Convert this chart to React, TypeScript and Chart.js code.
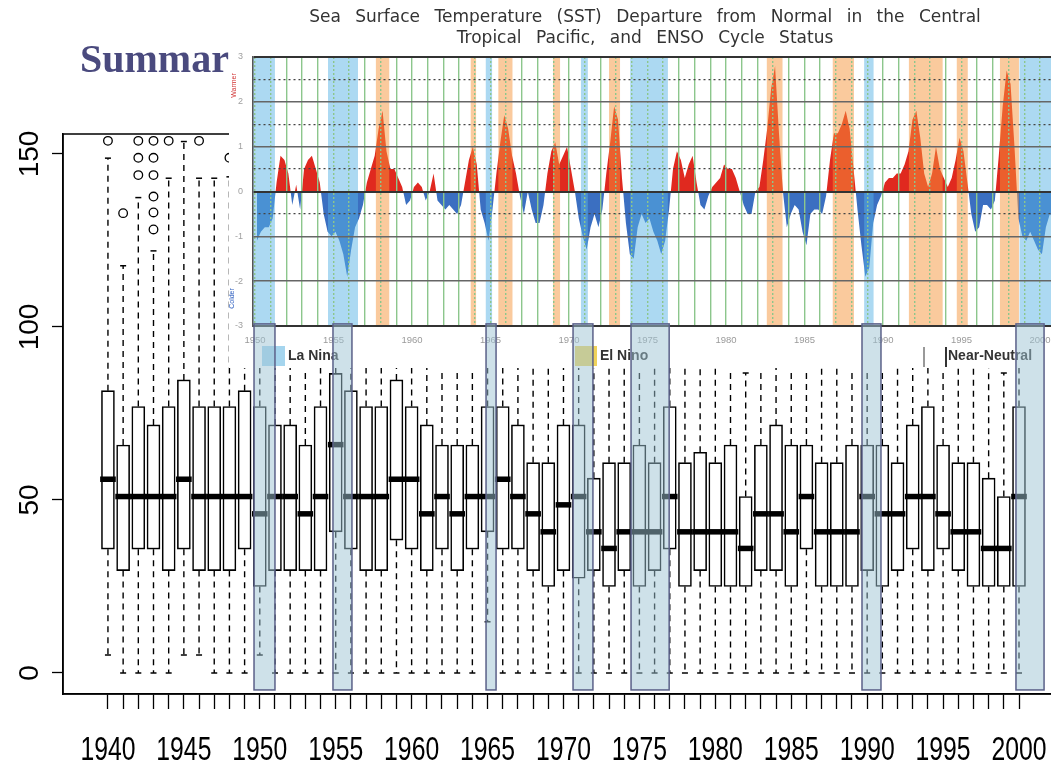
import React, { useEffect, useRef } from "react";
import { Chart, registerables } from "chart.js";

Chart.register(...registerables);

// ---------------- Box plot (main chart) ----------------
const YEARS = [
  1940, 1941, 1942, 1943, 1944, 1945, 1946, 1947, 1948, 1949,
  1950, 1951, 1952, 1953, 1954, 1955, 1956, 1957, 1958, 1959,
  1960, 1961, 1962, 1963, 1964, 1965, 1966, 1967, 1968, 1969,
  1970, 1971, 1972, 1973, 1974, 1975, 1976, 1977, 1978, 1979,
  1980, 1981, 1982, 1983, 1984, 1985, 1986, 1987, 1988, 1989,
  1990, 1991, 1992, 1993, 1994, 1995, 1996, 1997, 1998, 1999,
  2000,
];
const WHISKER_LOW = [
  5.2, 0, 0, 0, 0, 5.2, 5.2, 0, 0, 0,
  5.2, 0, 0, 0, 0, 0, 0, 0, 0, 0,
  0, 0, 0, 0, 0, 14.8, 0, 0, 0, 0,
  0, 0, 0, 0, 0, 0, 0, 0, 0, 0,
  0, 0, 0, 0, 0, 0, 0, 0, 0, 0,
  0, 0, 0, 0, 0, 0, 0, 0, 0, 0,
  0,
];
const Q1 = [
  35.8, 29.6, 35.8, 35.8, 29.6, 35.8, 29.6, 29.6, 29.6, 35.8,
  25.0, 29.6, 29.6, 29.6, 29.6, 40.8, 35.8, 29.6, 29.6, 38.4,
  35.8, 29.6, 35.8, 29.6, 35.8, 40.8, 35.8, 35.8, 29.6, 25.0,
  29.6, 27.4, 29.6, 25.0, 29.6, 25.0, 29.6, 35.8, 25.0, 29.6,
  25.0, 25.0, 25.0, 29.6, 29.6, 25.0, 35.8, 25.0, 25.0, 25.0,
  29.6, 25.0, 29.6, 35.8, 29.6, 35.8, 29.6, 25.0, 25.0, 25.0,
  25.0,
];
const MEDIAN = [
  56.0, 51.0, 51.0, 51.0, 51.0, 56.0, 51.0, 51.0, 51.0, 51.0,
  46.0, 51.0, 51.0, 46.0, 51.0, 66.0, 51.0, 51.0, 51.0, 56.0,
  56.0, 46.0, 51.0, 46.0, 51.0, 51.0, 56.0, 51.0, 46.0, 40.8,
  48.6, 51.0, 40.8, 36.0, 40.8, 40.8, 40.8, 51.0, 40.8, 40.8,
  40.8, 40.8, 36.0, 46.0, 46.0, 40.8, 51.0, 40.8, 40.8, 40.8,
  51.0, 46.0, 46.0, 51.0, 51.0, 46.0, 40.8, 40.8, 36.0, 36.0,
  51.0,
];
const Q3 = [
  81.6, 65.9, 77.0, 71.7, 77.0, 84.7, 77.0, 77.0, 77.0, 81.6,
  77.0, 71.7, 71.7, 65.9, 77.0, 86.6, 81.6, 77.0, 77.0, 84.7,
  77.0, 71.7, 65.9, 65.9, 65.9, 77.0, 77.0, 71.7, 60.8, 60.8,
  71.7, 71.7, 56.3, 60.8, 60.8, 65.9, 60.8, 77.0, 60.8, 63.8,
  60.8, 65.9, 51.0, 65.9, 71.7, 65.9, 65.9, 60.8, 60.8, 65.9,
  65.9, 65.9, 60.8, 71.7, 77.0, 65.9, 60.8, 60.8, 56.3, 51.0,
  77.0,
];
const WHISKER_HIGH = [
  148.8, 117.7, 137.4, 122.0, 143.0, 153.6, 143.0, 143.0, 143.4, 140,
  140, 140, 140, 140, 140, 140, 140, 140, 140, 140,
  140, 140, 140, 140, 140, 140, 140, 140, 140, 140,
  140, 140, 140, 140, 140, 140, 140, 140, 140, 140,
  140, 140, 86.7, 140, 140, 140, 140, 140, 140, 140,
  140, 140, 140, 140, 140, 140, 140, 140, 140, 86.7,
  140,
];
const OUTLIER_YEARS = [
  1940, 1941, 1942, 1942, 1942, 1943, 1943, 1943, 1943, 1943, 1943, 1944, 1946, 1948,
];
const OUTLIER_VALUES = [
  153.8, 132.9, 143.9, 148.9, 153.8, 128.2, 133.1, 137.7, 143.9, 148.9, 153.8, 153.8, 153.8, 148.9,
];
const X_LABEL_YEARS = [1940, 1945, 1950, 1955, 1960, 1965, 1970, 1975, 1980, 1985, 1990, 1995, 2000];
const X_TICK_LABELS = ["1940", "1945", "1950", "1955", "1960", "1965", "1970", "1975", "1980", "1985", "1990", "1995", "2000"];
const Y_TICK_VALUES = [0, 50, 100, 150];
const Y_TICK_LABELS = ["0", "50", "100", "150"];

const X_MIN = 1937.04;
const X_MAX = 2002.7;
const Y_MIN = -6.07;
const Y_MAX = 155.78;

// La Niña highlight boxes drawn over the box plot
const LANINA_BOX_START = [1949.62, 1954.82, 1964.9, 1970.63, 1974.45, 1989.66, 1999.8];
const LANINA_BOX_END = [1951.0, 1956.07, 1965.56, 1971.94, 1976.96, 1990.91, 2001.65];
const LANINA_BOX_TOP = 100.9;
const LANINA_BOX_BOTTOM = -4.9;

// ---------------- SST inset ----------------
const SST_START_YEAR = 1950;
const SST_1950S = [
  -1.1, -0.9, -0.8, -0.8,
  -0.6, 0.2, 0.8, 0.7,
  0.4, -0.3, 0.15, -0.4,
  0.5, 0.7, 0.8, 0.5,
  0.2, -0.5, -0.9, -1.0,
  -0.9, -1.1, -1.4, -1.9,
  -1.3, -0.8, -0.6, -0.3,
  0.2, 0.5, 0.8, 1.4,
  1.8, 0.9, 0.5, 0.5,
  0.3, 0.1, -0.3, -0.2,
];
const SST_1960S = [
  0.1, 0.2, 0.1, -0.2,
  0.0, 0.4, -0.2, -0.3,
  -0.4, -0.3, -0.4, -0.5,
  -0.3, 0.2, 0.7, 1.0,
  0.6, -0.4, -0.7, -1.1,
  -0.4, 0.4, 1.1, 1.7,
  1.4, 0.8, 0.4, -0.1,
  -0.5, 0.0, -0.4, -0.7,
  -0.7, -0.3, 0.4, 0.9,
  1.1, 0.6, 0.8, 1.0,
];
const SST_1970S = [
  0.5, 0.0, -0.6, -1.0,
  -1.3, -0.8, -0.5, -0.8,
  -0.4, 0.4, 1.1, 1.9,
  1.6, 0.3, -0.7, -1.4,
  -1.5, -0.8, -0.5, -0.7,
  -0.6, -0.9, -1.1, -1.4,
  -1.1, -0.4, 0.5, 0.9,
  0.7, 0.3, 0.6, 0.8,
  0.2, -0.3, -0.4, -0.1,
  0.1, 0.2, 0.3, 0.6,
];
const SST_1980S = [
  0.5, 0.5, 0.3, 0.0,
  -0.3, -0.5, -0.5, 0.0,
  0.1, 0.7, 1.4, 2.3,
  2.8, 1.3, 0.0, -0.8,
  -0.5, -0.3, -0.4, -0.9,
  -1.2, -0.5, -0.4, -0.4,
  -0.5, -0.1, 0.7, 1.3,
  1.3, 1.5, 1.8, 1.4,
  0.5, -0.4, -1.2, -1.9,
  -1.7, -0.7, -0.3, -0.1,
];
const SST_1990S = [
  0.2, 0.3, 0.3, 0.4,
  0.4, 0.6, 0.9, 1.6,
  1.8, 1.2, 0.4, 0.1,
  0.4, 1.0, 0.5, 0.3,
  0.1, 0.3, 0.7, 1.2,
  0.9, 0.2, -0.5, -0.9,
  -0.8, -0.3, -0.3, -0.4,
  -0.2, 0.8, 1.9, 2.7,
  2.4, 1.0, -0.6, -1.0,
  -1.1, -0.9, -1.1, -1.3,
];
const SST_2000S = [-1.4, -0.8, -0.5, -0.6];

const LA_NINA_START = [1949.87, 1954.65, 1964.7, 1970.76, 1973.9, 1988.8, 1998.7];
const LA_NINA_END = [1951.27, 1956.56, 1965.1, 1971.2, 1976.3, 1989.4, 2002.0];
const EL_NINO_START = [1957.7, 1963.74, 1965.5, 1968.98, 1972.55, 1982.6, 1986.8, 1991.65, 1994.7, 1997.45];
const EL_NINO_END = [1958.55, 1964.08, 1966.4, 1969.43, 1973.25, 1983.6, 1988.15, 1993.8, 1995.4, 1998.66];

const SST_X_MIN = 1949.873;
const SST_X_MAX = 2001.975;
const SST_Y_TICKS = [-3, -2.5, -2, -1.5, -1, -0.5, 0, 0.5, 1, 1.5, 2, 2.5, 3];
const SST_DOTTED_LEVELS = [-0.5, 0.5, 1.5, 2.5];

const SST_WARM = "#e0291f";
const SST_COOL = "#3b6fc1";

const inBand = (v: number) =>
  LA_NINA_START.some((s, i) => v > s && v < LA_NINA_END[i]) ||
  EL_NINO_START.some((s, i) => v > s && v < EL_NINO_END[i]);

// ---------------- plugins ----------------
const boxFramePlugin = {
  id: "boxFrame",
  afterDraw(chart: any) {
    const { ctx, chartArea: a, scales } = chart;
    const xs = scales.x;
    const ys = scales.y;
    ctx.save();
    ctx.strokeStyle = "#000";
    ctx.lineWidth = 1.5;
    ctx.strokeRect(a.left, a.top, a.right - a.left, a.bottom - a.top);
    ctx.fillStyle = "#000";
    ctx.textAlign = "center";
    ctx.textBaseline = "alphabetic";
    ctx.font = '28px "Liberation Sans", Arial, sans-serif';
    Y_TICK_VALUES.forEach((v, i) => {
      ctx.save();
      ctx.translate(38, ys.getPixelForValue(v));
      ctx.rotate(-Math.PI / 2);
      ctx.fillText(Y_TICK_LABELS[i], 0, 0);
      ctx.restore();
    });
    ctx.font = '33px "Liberation Sans", Arial, sans-serif';
    X_LABEL_YEARS.forEach((v, i) => {
      ctx.save();
      ctx.translate(xs.getPixelForValue(v), 760);
      ctx.scale(0.75, 1);
      ctx.fillText(X_TICK_LABELS[i], 0, 0);
      ctx.restore();
    });
    ctx.restore();
  },
};

const laNinaBoxPlugin = {
  id: "laNinaBoxes",
  afterDraw(chart: any) {
    const { ctx, scales } = chart;
    const xs = scales.x;
    const ys = scales.y;
    ctx.save();
    ctx.fillStyle = "rgba(157,196,211,0.5)";
    ctx.strokeStyle = "#5b6189";
    ctx.lineWidth = 1.5;
    LANINA_BOX_START.forEach((s, i) => {
      const x0 = xs.getPixelForValue(s);
      const x1 = xs.getPixelForValue(LANINA_BOX_END[i]);
      const y0 = ys.getPixelForValue(LANINA_BOX_TOP);
      const y1 = ys.getPixelForValue(LANINA_BOX_BOTTOM);
      ctx.fillRect(x0, y0, x1 - x0, y1 - y0);
      ctx.strokeRect(x0, y0, x1 - x0, y1 - y0);
    });
    ctx.restore();
  },
};

const ensoBandsPlugin = {
  id: "ensoBands",
  afterDatasetsDraw(chart: any) {
    const { ctx, chartArea: a, scales } = chart;
    const xs = scales.x;
    ctx.save();
    ctx.beginPath();
    ctx.rect(a.left, a.top, a.right - a.left, a.bottom - a.top);
    ctx.clip();
    const draw = (starts: number[], ends: number[], color: string) => {
      ctx.fillStyle = color;
      starts.forEach((s, i) => {
        const x0 = xs.getPixelForValue(s);
        const x1 = xs.getPixelForValue(ends[i]);
        ctx.fillRect(x0, a.top, x1 - x0, a.bottom - a.top);
      });
    };
    draw(LA_NINA_START, LA_NINA_END, "rgba(90,180,230,0.5)");
    draw(EL_NINO_START, EL_NINO_END, "rgba(245,150,60,0.5)");
    ctx.restore();
  },
};

// ---------------- chart builders ----------------
function makeMain(canvas: HTMLCanvasElement) {
  const boxData = YEARS.map((yr, i) => ({ x: yr, y: [Q1[i], Q3[i]] }));
  const medData = YEARS.map((yr, i) => ({ x: yr, y: [MEDIAN[i] - 0.7, MEDIAN[i] + 0.7] }));
  const whiskers: any[] = [];
  YEARS.forEach((yr, i) => {
    whiskers.push({ x: yr, y: Q3[i] }, { x: yr, y: WHISKER_HIGH[i] }, { x: yr, y: null });
    whiskers.push({ x: yr, y: Q1[i] }, { x: yr, y: WHISKER_LOW[i] }, { x: yr, y: null });
  });
  const caps = YEARS.flatMap((yr, i) => [
    { x: yr, y: WHISKER_HIGH[i] },
    { x: yr, y: WHISKER_LOW[i] },
  ]);
  const outliers = OUTLIER_YEARS.map((yr, i) => ({ x: yr, y: OUTLIER_VALUES[i] }));

  return new Chart(canvas, {
    type: "bar",
    data: {
      datasets: [
        {
          type: "line",
          data: whiskers,
          borderColor: "#000",
          borderWidth: 1.4,
          borderDash: [6, 5],
          pointRadius: 0,
          spanGaps: false,
          fill: false,
          order: 5,
        } as any,
        {
          type: "bar",
          data: boxData,
          backgroundColor: "#fff",
          borderColor: "#000",
          borderWidth: 1.6,
          borderSkipped: false,
          barThickness: 13,
          grouped: false,
          order: 4,
        } as any,
        {
          type: "bar",
          data: medData,
          backgroundColor: "#000",
          borderWidth: 0,
          barThickness: 15,
          grouped: false,
          order: 3,
        } as any,
        {
          type: "scatter",
          data: caps,
          pointStyle: "line",
          pointRadius: 3,
          borderColor: "#000",
          borderWidth: 1.5,
          order: 2,
        } as any,
        {
          type: "scatter",
          data: outliers,
          pointStyle: "circle",
          pointRadius: 4.3,
          borderColor: "#000",
          backgroundColor: "#fff",
          borderWidth: 1.3,
          order: 1,
        } as any,
      ],
    },
    options: {
      animation: false,
      responsive: false,
      events: [],
      layout: { padding: { left: 0, top: 134, right: 15, bottom: 0 } },
      plugins: { legend: { display: false }, tooltip: { enabled: false }, title: { display: false } },
      scales: {
        x: {
          type: "linear",
          min: X_MIN,
          max: X_MAX,
          offset: false,
          afterBuildTicks: (s: any) => {
            s.ticks = YEARS.map((v) => ({ value: v }));
          },
          afterFit: (s: any) => {
            s.height = 68;
          },
          ticks: { display: false },
          grid: {
            display: true,
            offset: false,
            drawOnChartArea: false,
            drawTicks: true,
            tickLength: 15,
            tickColor: "#000",
            tickWidth: 1.3,
          },
          border: { display: true, color: "#000", width: 1.5 },
        },
        y: {
          type: "linear",
          min: Y_MIN,
          max: Y_MAX,
          afterBuildTicks: (s: any) => {
            s.ticks = Y_TICK_VALUES.map((v) => ({ value: v }));
          },
          afterFit: (s: any) => {
            s.width = 63;
          },
          ticks: { display: false },
          grid: {
            drawOnChartArea: false,
            drawTicks: true,
            tickLength: 11,
            tickColor: "#000",
            tickWidth: 1.3,
          },
          border: { display: true, color: "#000", width: 1.5 },
        },
      },
    } as any,
    plugins: [boxFramePlugin],
  });
}

function makeOverlay(canvas: HTMLCanvasElement) {
  return new Chart(canvas, {
    type: "scatter",
    data: { datasets: [] },
    options: {
      animation: false,
      responsive: false,
      events: [],
      layout: { padding: { left: 63, top: 134, right: 15, bottom: 68 } },
      plugins: { legend: { display: false }, tooltip: { enabled: false } },
      scales: {
        x: { type: "linear", display: false, min: X_MIN, max: X_MAX },
        y: { type: "linear", display: false, min: Y_MIN, max: Y_MAX },
      },
    } as any,
    plugins: [laNinaBoxPlugin],
  });
}

function makeInset(canvas: HTMLCanvasElement) {
  const sst = [...SST_1950S, ...SST_1960S, ...SST_1970S, ...SST_1980S, ...SST_1990S, ...SST_2000S];
  const points = sst.map((v, i) => ({ x: SST_START_YEAR + (i + 0.5) / 4, y: v }));
  const gridYears = [...YEARS.filter((y) => y >= 1950), 2001];
  const yColor = (c: any) => {
    const v = c.tick ? c.tick.value : undefined;
    if (v === undefined) return "transparent";
    if (Number.isInteger(v)) return v === 0 || Math.abs(v) === 3 ? "#333" : "#666";
    return SST_DOTTED_LEVELS.includes(v) ? "#444" : "transparent";
  };
  const yWidth = (c: any) => {
    const v = c.tick ? c.tick.value : 0;
    if (Number.isInteger(v)) return v === 0 || Math.abs(v) === 3 ? 2 : 1.5;
    return 1.3;
  };
  const yDash = (c: any) => {
    const v = c.tick ? c.tick.value : undefined;
    if (v === undefined) return [];
    return Number.isInteger(v) ? [] : [2, 3];
  };
  const xDash = (c: any) => {
    const v = c.tick ? c.tick.value : undefined;
    if (v === undefined) return [];
    return inBand(v) ? [2, 2] : [];
  };
  return new Chart(canvas, {
    type: "line",
    data: {
      datasets: [
        {
          data: points,
          borderWidth: 0,
          pointRadius: 0,
          tension: 0,
          backgroundColor: SST_WARM,
          fill: { target: "origin", above: SST_WARM, below: SST_COOL },
        } as any,
      ],
    },
    options: {
      animation: false,
      responsive: false,
      events: [],
      layout: { padding: { left: 0, top: 57, right: 8, bottom: 0 } },
      plugins: { legend: { display: false }, tooltip: { enabled: false } },
      scales: {
        x: {
          type: "linear",
          min: SST_X_MIN,
          max: SST_X_MAX,
          offset: false,
          afterBuildTicks: (s: any) => {
            s.ticks = gridYears.map((v) => ({ value: v }));
          },
          afterFit: (s: any) => {
            s.height = 42;
          },
          ticks: {
            autoSkip: false,
            maxRotation: 0,
            padding: 9,
            color: "#9a9a9a",
            font: { size: 9.5, family: '"Liberation Sans", Arial, sans-serif' },
            callback: (v: any) => (v % 5 === 0 ? String(v) : ""),
          },
          grid: { z: 1, drawTicks: false, color: "#8cc68c", lineWidth: 1.4, borderDash: xDash },
          border: { z: 1, color: "#333", width: 2, dash: xDash },
        },
        y: {
          type: "linear",
          min: -3,
          max: 3,
          afterBuildTicks: (s: any) => {
            s.ticks = SST_Y_TICKS.map((v) => ({ value: v }));
          },
          afterFit: (s: any) => {
            s.width = 24;
          },
          ticks: {
            padding: 10,
            color: "#a0a0a0",
            font: { size: 9, family: '"Liberation Sans", Arial, sans-serif' },
            callback: (v: any) => (Number.isInteger(v) ? String(v) : ""),
          },
          grid: { z: 1, drawTicks: false, color: yColor, lineWidth: yWidth, borderDash: yDash },
          border: { z: 1, color: "#555", width: 1.5, dash: yDash },
        },
      },
    } as any,
    plugins: [ensoBandsPlugin],
  });
}

export default function App() {
  const mainRef = useRef<HTMLCanvasElement>(null);
  const insetRef = useRef<HTMLCanvasElement>(null);
  const overlayRef = useRef<HTMLCanvasElement>(null);

  useEffect(() => {
    const charts: Chart[] = [];
    if (mainRef.current) charts.push(makeMain(mainRef.current));
    if (insetRef.current) charts.push(makeInset(insetRef.current));
    if (overlayRef.current) charts.push(makeOverlay(overlayRef.current));
    return () => charts.forEach((c) => c.destroy());
  }, []);

  const titleStyle: React.CSSProperties = {
    position: "absolute",
    left: 0,
    width: 832,
    textAlign: "center",
    font: '17px "DejaVu Sans", sans-serif',
    lineHeight: "20px",
    color: "#333",
    wordSpacing: "9px",
    whiteSpace: "nowrap",
  };
  const legendText: React.CSSProperties = {
    position: "absolute",
    top: 347,
    font: 'bold 14px "Liberation Sans", Arial, sans-serif',
    lineHeight: "16px",
    color: "#333",
    whiteSpace: "nowrap",
  };

  return (
    <div
      style={{
        position: "fixed",
        left: 0,
        top: 0,
        width: 1051,
        height: 762,
        overflow: "hidden",
        background: "#fff",
      }}
    >
      <canvas ref={mainRef} width={1075} height={762} style={{ position: "absolute", left: 0, top: 0, width: 1075, height: 762 }} />
      <div
        style={{
          position: "absolute",
          left: 80,
          top: 39,
          font: 'bold 40px "Liberation Serif", serif',
          lineHeight: "40px",
          color: "#4a4a7e",
          whiteSpace: "nowrap",
        }}
      >
        Summary
      </div>
      <div style={{ position: "absolute", left: 229, top: 0, width: 850, height: 368, background: "#fff" }}>
        <canvas ref={insetRef} width={850} height={368} style={{ position: "absolute", left: 0, top: 0, width: 850, height: 368 }} />
        <div style={{ ...titleStyle, top: 6 }}>Sea Surface Temperature (SST) Departure from Normal in the Central</div>
        <div style={{ ...titleStyle, top: 27 }}>Tropical Pacific, and ENSO Cycle Status</div>
        <div
          style={{
            position: "absolute",
            left: -14,
            top: 82,
            width: 36,
            textAlign: "center",
            transform: "rotate(-90deg)",
            font: '7px "Liberation Sans", Arial, sans-serif',
            color: "#d03030",
          }}
        >
          Warmer
        </div>
        <div
          style={{
            position: "absolute",
            left: -16,
            top: 295,
            width: 36,
            textAlign: "center",
            transform: "rotate(-90deg)",
            font: '7px "Liberation Sans", Arial, sans-serif',
            color: "#3060c0",
          }}
        >
          Colder
        </div>
        <div style={{ position: "absolute", left: 33, top: 346, width: 23, height: 20, background: "#a5d5ee" }} />
        <div style={{ ...legendText, left: 59 }}>La Nina</div>
        <div style={{ position: "absolute", left: 346, top: 346, width: 22, height: 20, background: "#efd25a" }} />
        <div style={{ ...legendText, left: 371 }}>El Nino</div>
        <div style={{ position: "absolute", left: 694, top: 347, width: 2, height: 20, background: "#999" }} />
        <div style={{ position: "absolute", left: 716, top: 347, width: 2, height: 20, background: "#333" }} />
        <div style={{ ...legendText, left: 719 }}>Near-Neutral</div>
      </div>
      <canvas
        ref={overlayRef}
        width={1075}
        height={762}
        style={{ position: "absolute", left: 0, top: 0, width: 1075, height: 762, pointerEvents: "none" }}
      />
    </div>
  );
}
